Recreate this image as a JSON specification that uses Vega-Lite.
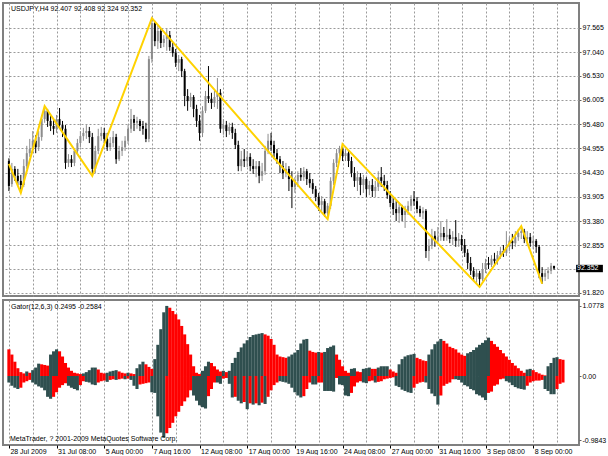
{
"$schema":"https://vega.github.io/schema/vega-lite/v6.json",
"padding":{"left":2,"top":2,"right":0,"bottom":0},
"background":"#ffffff",
"spacing":2,
"config":{"view":{"stroke":"#808080","strokeWidth":2},
"axis":{"labelFont":"Liberation Sans","labelFontSize":7,"labelColor":"#000000","tickColor":"#606060","gridColor":"#9a9a9a","gridDash":[2,2],"gridWidth":1,"domain":false,"labelOverlap":false}},
"datasets":{
"candles":[
{"i":0,"o":94.68,"h":94.74,"l":94.03,"c":94.14},{"i":1,"o":94.18,"h":94.64,"l":94.12,"c":94.51},{"i":2,"o":94.51,"h":94.57,"l":94.25,"c":94.36},{"i":3,"o":94.36,"h":94.51,"l":94.16,"c":94.25},{"i":4,"o":94.25,"h":94.38,"l":93.99,"c":94.16},{"i":5,"o":94.16,"h":94.72,"l":94.12,"c":94.57},{"i":6,"o":94.57,"h":95.01,"l":94.51,"c":94.85},{"i":7,"o":94.85,"h":95.16,"l":94.77,"c":94.94},{"i":8,"o":94.94,"h":95.33,"l":94.85,"c":95.12},{"i":9,"o":95.12,"h":95.24,"l":94.85,"c":94.98},
{"i":10,"o":94.98,"h":95.33,"l":94.90,"c":95.20},{"i":11,"o":95.20,"h":95.68,"l":95.12,"c":95.59},{"i":12,"o":95.59,"h":95.87,"l":95.51,"c":95.77},{"i":13,"o":95.77,"h":95.81,"l":95.42,"c":95.55},{"i":14,"o":95.55,"h":95.68,"l":95.33,"c":95.44},{"i":15,"o":95.44,"h":95.59,"l":95.25,"c":95.38},{"i":16,"o":95.38,"h":95.68,"l":95.29,"c":95.59},{"i":17,"o":95.59,"h":95.83,"l":95.38,"c":95.46},{"i":18,"o":95.46,"h":95.55,"l":95.20,"c":95.38},{"i":19,"o":95.38,"h":95.46,"l":94.51,"c":94.64},
{"i":20,"o":94.64,"h":94.83,"l":94.55,"c":94.72},{"i":21,"o":94.72,"h":94.81,"l":94.55,"c":94.64},{"i":22,"o":94.64,"h":94.94,"l":94.57,"c":94.90},{"i":23,"o":94.90,"h":95.16,"l":94.83,"c":95.07},{"i":24,"o":95.07,"h":95.33,"l":94.98,"c":95.22},{"i":25,"o":95.22,"h":95.40,"l":95.12,"c":95.29},{"i":26,"o":95.29,"h":95.46,"l":95.16,"c":95.33},{"i":27,"o":95.33,"h":95.42,"l":95.07,"c":95.20},{"i":28,"o":95.20,"h":95.29,"l":94.36,"c":94.51},{"i":29,"o":94.51,"h":95.01,"l":94.42,"c":94.90},
{"i":30,"o":94.90,"h":95.38,"l":94.83,"c":95.22},{"i":31,"o":95.22,"h":95.42,"l":95.12,"c":95.29},{"i":32,"o":95.29,"h":95.40,"l":95.07,"c":95.16},{"i":33,"o":95.16,"h":95.29,"l":94.90,"c":94.98},{"i":34,"o":94.98,"h":95.20,"l":94.90,"c":95.07},{"i":35,"o":95.07,"h":95.33,"l":94.98,"c":95.20},{"i":36,"o":95.20,"h":95.27,"l":94.62,"c":94.72},{"i":37,"o":94.72,"h":95.01,"l":94.68,"c":94.90},{"i":38,"o":94.90,"h":95.12,"l":94.79,"c":94.98},{"i":39,"o":94.98,"h":95.22,"l":94.90,"c":95.12},
{"i":40,"o":95.12,"h":95.46,"l":95.05,"c":95.38},{"i":41,"o":95.38,"h":95.81,"l":95.29,"c":95.59},{"i":42,"o":95.59,"h":95.68,"l":95.33,"c":95.51},{"i":43,"o":95.51,"h":95.64,"l":95.38,"c":95.55},{"i":44,"o":95.55,"h":95.59,"l":95.33,"c":95.44},{"i":45,"o":95.44,"h":95.55,"l":95.25,"c":95.38},{"i":46,"o":95.38,"h":95.51,"l":95.09,"c":95.16},{"i":47,"o":95.16,"h":96.96,"l":95.09,"c":96.89},{"i":48,"o":96.89,"h":97.78,"l":96.81,"c":97.67},{"i":49,"o":97.67,"h":97.72,"l":97.17,"c":97.28},
{"i":50,"o":97.28,"h":97.63,"l":97.11,"c":97.50},{"i":51,"o":97.50,"h":97.54,"l":97.13,"c":97.24},{"i":52,"o":97.24,"h":97.41,"l":97.15,"c":97.33},{"i":53,"o":97.33,"h":97.54,"l":97.07,"c":97.41},{"i":54,"o":97.41,"h":97.50,"l":97.07,"c":97.15},{"i":55,"o":97.15,"h":97.24,"l":96.94,"c":97.02},{"i":56,"o":97.02,"h":97.11,"l":96.72,"c":96.81},{"i":57,"o":96.81,"h":96.98,"l":96.63,"c":96.89},{"i":58,"o":96.89,"h":96.94,"l":96.50,"c":96.63},{"i":59,"o":96.63,"h":96.68,"l":95.87,"c":96.09},
{"i":60,"o":96.09,"h":96.24,"l":95.77,"c":95.98},{"i":61,"o":95.98,"h":96.16,"l":95.85,"c":96.07},{"i":62,"o":96.07,"h":96.11,"l":95.63,"c":95.81},{"i":63,"o":95.81,"h":95.90,"l":95.42,"c":95.55},{"i":64,"o":95.55,"h":95.68,"l":95.12,"c":95.29},{"i":65,"o":95.29,"h":95.87,"l":95.20,"c":95.77},{"i":66,"o":95.77,"h":96.20,"l":95.72,"c":96.09},{"i":67,"o":96.09,"h":96.74,"l":95.94,"c":96.03},{"i":68,"o":96.03,"h":96.16,"l":95.81,"c":95.94},{"i":69,"o":95.94,"h":96.20,"l":95.85,"c":96.07},
{"i":70,"o":96.07,"h":96.48,"l":95.81,"c":96.16},{"i":71,"o":96.16,"h":96.24,"l":95.29,"c":95.38},{"i":72,"o":95.38,"h":95.59,"l":95.25,"c":95.46},{"i":73,"o":95.46,"h":95.55,"l":95.20,"c":95.33},{"i":74,"o":95.33,"h":95.51,"l":95.25,"c":95.42},{"i":75,"o":95.42,"h":95.51,"l":95.16,"c":95.29},{"i":76,"o":95.29,"h":95.38,"l":94.94,"c":95.03},{"i":77,"o":95.03,"h":95.12,"l":94.46,"c":94.57},{"i":78,"o":94.57,"h":94.90,"l":94.46,"c":94.72},{"i":79,"o":94.72,"h":94.94,"l":94.55,"c":94.68},
{"i":80,"o":94.68,"h":94.90,"l":94.55,"c":94.77},{"i":81,"o":94.77,"h":94.85,"l":94.46,"c":94.57},{"i":82,"o":94.57,"h":94.72,"l":94.40,"c":94.51},{"i":83,"o":94.51,"h":94.68,"l":94.33,"c":94.57},{"i":84,"o":94.57,"h":94.68,"l":94.20,"c":94.36},{"i":85,"o":94.36,"h":94.64,"l":94.25,"c":94.46},{"i":86,"o":94.46,"h":95.01,"l":94.38,"c":94.90},{"i":87,"o":94.90,"h":95.27,"l":94.83,"c":95.12},{"i":88,"o":95.12,"h":95.29,"l":94.90,"c":95.03},{"i":89,"o":95.03,"h":95.12,"l":94.72,"c":94.85},
{"i":90,"o":94.85,"h":94.94,"l":94.62,"c":94.72},{"i":91,"o":94.72,"h":94.79,"l":94.42,"c":94.57},{"i":92,"o":94.57,"h":94.68,"l":94.29,"c":94.42},{"i":93,"o":94.42,"h":94.64,"l":94.33,"c":94.51},{"i":94,"o":94.51,"h":94.57,"l":94.03,"c":94.29},{"i":95,"o":94.29,"h":94.46,"l":93.66,"c":94.12},{"i":96,"o":94.12,"h":94.33,"l":93.99,"c":94.25},{"i":97,"o":94.25,"h":94.46,"l":94.12,"c":94.38},{"i":98,"o":94.38,"h":94.53,"l":94.25,"c":94.33},{"i":99,"o":94.33,"h":94.55,"l":94.25,"c":94.46},
{"i":100,"o":94.46,"h":94.51,"l":94.16,"c":94.29},{"i":101,"o":94.29,"h":94.42,"l":94.10,"c":94.20},{"i":102,"o":94.20,"h":94.29,"l":93.97,"c":94.07},{"i":103,"o":94.07,"h":94.14,"l":93.81,"c":93.90},{"i":104,"o":93.90,"h":93.99,"l":93.60,"c":93.73},{"i":105,"o":93.73,"h":93.92,"l":93.60,"c":93.81},{"i":106,"o":93.81,"h":93.86,"l":93.47,"c":93.55},{"i":107,"o":93.55,"h":93.77,"l":93.42,"c":93.71},{"i":108,"o":93.71,"h":94.33,"l":93.64,"c":94.25},{"i":109,"o":94.25,"h":94.72,"l":94.16,"c":94.64},
{"i":110,"o":94.64,"h":94.94,"l":94.55,"c":94.85},{"i":111,"o":94.85,"h":95.01,"l":94.72,"c":94.94},{"i":112,"o":94.94,"h":95.05,"l":94.68,"c":94.79},{"i":113,"o":94.79,"h":94.94,"l":94.68,"c":94.85},{"i":114,"o":94.85,"h":94.90,"l":94.55,"c":94.68},{"i":115,"o":94.68,"h":94.77,"l":94.33,"c":94.42},{"i":116,"o":94.42,"h":94.55,"l":94.12,"c":94.25},{"i":117,"o":94.25,"h":94.46,"l":94.03,"c":94.33},{"i":118,"o":94.33,"h":94.42,"l":93.94,"c":94.16},{"i":119,"o":94.16,"h":94.38,"l":93.99,"c":94.29},
{"i":120,"o":94.29,"h":94.33,"l":93.90,"c":94.07},{"i":121,"o":94.07,"h":94.25,"l":93.94,"c":94.16},{"i":122,"o":94.16,"h":94.29,"l":93.90,"c":94.03},{"i":123,"o":94.03,"h":94.25,"l":93.90,"c":94.12},{"i":124,"o":94.12,"h":94.46,"l":94.03,"c":94.33},{"i":125,"o":94.33,"h":94.55,"l":94.12,"c":94.25},{"i":126,"o":94.25,"h":94.38,"l":94.03,"c":94.16},{"i":127,"o":94.16,"h":94.25,"l":93.86,"c":93.94},{"i":128,"o":93.94,"h":94.03,"l":93.68,"c":93.77},{"i":129,"o":93.77,"h":93.90,"l":93.51,"c":93.64},
{"i":130,"o":93.64,"h":93.81,"l":93.38,"c":93.55},{"i":131,"o":93.55,"h":93.75,"l":93.34,"c":93.68},{"i":132,"o":93.68,"h":93.73,"l":93.38,"c":93.51},{"i":133,"o":93.51,"h":93.71,"l":93.23,"c":93.60},{"i":134,"o":93.60,"h":93.81,"l":93.51,"c":93.71},{"i":135,"o":93.71,"h":93.94,"l":93.60,"c":93.86},{"i":136,"o":93.86,"h":94.03,"l":93.71,"c":93.81},{"i":137,"o":93.81,"h":93.90,"l":93.55,"c":93.64},{"i":138,"o":93.64,"h":93.71,"l":93.47,"c":93.55},{"i":139,"o":93.55,"h":93.68,"l":93.42,"c":93.60},
{"i":140,"o":93.60,"h":93.64,"l":92.58,"c":92.73},{"i":141,"o":92.73,"h":92.99,"l":92.51,"c":92.84},{"i":142,"o":92.84,"h":93.21,"l":92.77,"c":93.06},{"i":143,"o":93.06,"h":93.16,"l":92.82,"c":92.95},{"i":144,"o":92.95,"h":93.25,"l":92.88,"c":93.03},{"i":145,"o":93.03,"h":93.38,"l":92.95,"c":93.12},{"i":146,"o":93.12,"h":93.25,"l":92.95,"c":93.03},{"i":147,"o":93.03,"h":93.42,"l":92.95,"c":93.08},{"i":148,"o":93.08,"h":93.21,"l":92.90,"c":92.99},{"i":149,"o":92.99,"h":93.16,"l":92.86,"c":93.03},
{"i":150,"o":93.03,"h":93.40,"l":92.82,"c":92.95},{"i":151,"o":92.95,"h":93.12,"l":92.82,"c":92.99},{"i":152,"o":92.99,"h":93.08,"l":92.73,"c":92.86},{"i":153,"o":92.86,"h":92.99,"l":92.60,"c":92.69},{"i":154,"o":92.69,"h":92.77,"l":92.34,"c":92.47},{"i":155,"o":92.47,"h":92.60,"l":92.21,"c":92.30},{"i":156,"o":92.30,"h":92.38,"l":92.08,"c":92.17},{"i":157,"o":92.17,"h":92.34,"l":92.04,"c":92.25},{"i":158,"o":92.25,"h":92.30,"l":91.95,"c":92.12},{"i":159,"o":92.12,"h":92.47,"l":92.08,"c":92.34},
{"i":160,"o":92.34,"h":92.56,"l":92.25,"c":92.47},{"i":161,"o":92.47,"h":92.60,"l":92.34,"c":92.43},{"i":162,"o":92.43,"h":92.64,"l":92.38,"c":92.56},{"i":163,"o":92.56,"h":92.69,"l":92.43,"c":92.51},{"i":164,"o":92.51,"h":92.73,"l":92.43,"c":92.64},{"i":165,"o":92.64,"h":92.82,"l":92.56,"c":92.73},{"i":166,"o":92.73,"h":92.86,"l":92.60,"c":92.69},{"i":167,"o":92.69,"h":93.16,"l":92.62,"c":92.82},{"i":168,"o":92.82,"h":93.03,"l":92.73,"c":92.95},{"i":169,"o":92.95,"h":93.10,"l":92.77,"c":92.90},
{"i":170,"o":92.90,"h":93.16,"l":92.82,"c":93.03},{"i":171,"o":93.03,"h":93.21,"l":92.95,"c":93.12},{"i":172,"o":93.12,"h":93.27,"l":92.99,"c":93.16},{"i":173,"o":93.16,"h":93.21,"l":92.90,"c":92.99},{"i":174,"o":92.99,"h":93.16,"l":92.86,"c":93.03},{"i":175,"o":93.03,"h":93.12,"l":92.82,"c":92.90},{"i":176,"o":92.90,"h":93.06,"l":92.77,"c":92.95},{"i":177,"o":92.95,"h":92.99,"l":92.69,"c":92.82},{"i":178,"o":92.82,"h":92.86,"l":92.14,"c":92.25},{"i":179,"o":92.25,"h":92.38,"l":92.02,"c":92.17},
{"i":180,"o":92.17,"h":92.34,"l":92.08,"c":92.25},{"i":181,"o":92.25,"h":92.38,"l":92.12,"c":92.30},{"i":182,"o":92.30,"h":92.47,"l":92.23,"c":92.41},{"i":183,"o":92.407,"h":92.408,"l":92.324,"c":92.352}
],
"zz":[{"i":0,"p":94.62},{"i":4,"p":93.99},{"i":12,"p":95.87},{"i":28,"p":94.36},{"i":48,"p":97.78},{"i":107,"p":93.42},{"i":112,"p":95.05},{"i":158,"p":91.95},{"i":172,"p":93.27},{"i":179,"p":92.02}],
"gator":[
{"i":0,"u":0.41,"uc":"r","d":-0.10,"dc":"g"},{"i":1,"u":0.33,"uc":"r","d":-0.15,"dc":"g"},{"i":2,"u":0.22,"uc":"r","d":-0.18,"dc":"g"},{"i":3,"u":0.12,"uc":"r","d":-0.20,"dc":"g"},{"i":4,"u":0.06,"uc":"r","d":-0.18,"dc":"r"},{"i":5,"u":0.04,"uc":"r","d":-0.10,"dc":"r"},{"i":6,"u":0.07,"uc":"g","d":-0.08,"dc":"r"},{"i":7,"u":0.05,"uc":"r","d":-0.06,"dc":"r"},{"i":8,"u":0.09,"uc":"g","d":-0.10,"dc":"g"},{"i":9,"u":0.13,"uc":"g","d":-0.13,"dc":"g"},
{"i":10,"u":0.19,"uc":"g","d":-0.16,"dc":"g"},{"i":11,"u":0.18,"uc":"r","d":-0.18,"dc":"g"},{"i":12,"u":0.17,"uc":"r","d":-0.22,"dc":"g"},{"i":13,"u":0.16,"uc":"r","d":-0.32,"dc":"g"},{"i":14,"u":0.33,"uc":"g","d":-0.35,"dc":"g"},{"i":15,"u":0.38,"uc":"g","d":-0.32,"dc":"r"},{"i":16,"u":0.41,"uc":"g","d":-0.25,"dc":"r"},{"i":17,"u":0.38,"uc":"r","d":-0.18,"dc":"r"},{"i":18,"u":0.30,"uc":"r","d":-0.14,"dc":"r"},{"i":19,"u":0.20,"uc":"r","d":-0.11,"dc":"r"},
{"i":20,"u":0.13,"uc":"r","d":-0.15,"dc":"g"},{"i":21,"u":0.08,"uc":"r","d":-0.18,"dc":"g"},{"i":22,"u":0.05,"uc":"r","d":-0.20,"dc":"g"},{"i":23,"u":0.04,"uc":"r","d":-0.22,"dc":"g"},{"i":24,"u":0.03,"uc":"r","d":-0.14,"dc":"r"},{"i":25,"u":0.04,"uc":"g","d":-0.08,"dc":"r"},{"i":26,"u":0.06,"uc":"g","d":-0.09,"dc":"g"},{"i":27,"u":0.09,"uc":"g","d":-0.10,"dc":"g"},{"i":28,"u":0.13,"uc":"g","d":-0.13,"dc":"g"},{"i":29,"u":0.13,"uc":"g","d":-0.14,"dc":"g"},
{"i":30,"u":0.10,"uc":"r","d":-0.10,"dc":"r"},{"i":31,"u":0.05,"uc":"r","d":-0.08,"dc":"r"},{"i":32,"u":0.04,"uc":"r","d":-0.07,"dc":"r"},{"i":33,"u":0.05,"uc":"g","d":-0.09,"dc":"g"},{"i":34,"u":0.07,"uc":"g","d":-0.06,"dc":"r"},{"i":35,"u":0.08,"uc":"g","d":-0.05,"dc":"r"},{"i":36,"u":0.09,"uc":"g","d":-0.06,"dc":"g"},{"i":37,"u":0.07,"uc":"r","d":-0.05,"dc":"r"},{"i":38,"u":0.05,"uc":"r","d":-0.04,"dc":"r"},{"i":39,"u":0.04,"uc":"r","d":-0.05,"dc":"g"},
{"i":40,"u":0.05,"uc":"g","d":-0.04,"dc":"r"},{"i":41,"u":0.04,"uc":"r","d":-0.06,"dc":"g"},{"i":42,"u":0.03,"uc":"r","d":-0.15,"dc":"g"},{"i":43,"u":0.12,"uc":"g","d":-0.20,"dc":"g"},{"i":44,"u":0.18,"uc":"g","d":-0.13,"dc":"r"},{"i":45,"u":0.22,"uc":"g","d":-0.12,"dc":"r"},{"i":46,"u":0.18,"uc":"r","d":-0.11,"dc":"r"},{"i":47,"u":0.14,"uc":"r","d":-0.10,"dc":"r"},{"i":48,"u":0.11,"uc":"r","d":-0.25,"dc":"g"},{"i":49,"u":0.26,"uc":"g","d":-0.26,"dc":"g"},
{"i":50,"u":0.48,"uc":"g","d":-0.62,"dc":"g"},{"i":51,"u":0.72,"uc":"g","d":-0.87,"dc":"g"},{"i":52,"u":0.98,"uc":"g","d":-0.95,"dc":"g"},{"i":53,"u":1.078,"uc":"g","d":-0.88,"dc":"r"},{"i":54,"u":1.05,"uc":"r","d":-0.80,"dc":"r"},{"i":55,"u":1.00,"uc":"r","d":-0.72,"dc":"r"},{"i":56,"u":0.95,"uc":"r","d":-0.62,"dc":"r"},{"i":57,"u":0.87,"uc":"r","d":-0.55,"dc":"r"},{"i":58,"u":0.77,"uc":"r","d":-0.46,"dc":"r"},{"i":59,"u":0.64,"uc":"r","d":-0.39,"dc":"r"},
{"i":60,"u":0.49,"uc":"r","d":-0.33,"dc":"r"},{"i":61,"u":0.33,"uc":"r","d":-0.22,"dc":"r"},{"i":62,"u":0.15,"uc":"r","d":-0.30,"dc":"g"},{"i":63,"u":0.05,"uc":"r","d":-0.38,"dc":"g"},{"i":64,"u":0.03,"uc":"r","d":-0.45,"dc":"g"},{"i":65,"u":0.08,"uc":"g","d":-0.48,"dc":"g"},{"i":66,"u":0.15,"uc":"g","d":-0.50,"dc":"g"},{"i":67,"u":0.22,"uc":"g","d":-0.31,"dc":"r"},{"i":68,"u":0.20,"uc":"r","d":-0.20,"dc":"r"},{"i":69,"u":0.15,"uc":"r","d":-0.10,"dc":"r"},
{"i":70,"u":0.10,"uc":"r","d":-0.10,"dc":"g"},{"i":71,"u":0.07,"uc":"r","d":-0.12,"dc":"g"},{"i":72,"u":0.08,"uc":"g","d":-0.04,"dc":"r"},{"i":73,"u":0.06,"uc":"r","d":-0.03,"dc":"r"},{"i":74,"u":0.08,"uc":"g","d":-0.12,"dc":"g"},{"i":75,"u":0.20,"uc":"g","d":-0.33,"dc":"g"},{"i":76,"u":0.28,"uc":"g","d":-0.32,"dc":"r"},{"i":77,"u":0.37,"uc":"g","d":-0.38,"dc":"g"},{"i":78,"u":0.44,"uc":"g","d":-0.42,"dc":"g"},{"i":79,"u":0.50,"uc":"g","d":-0.40,"dc":"r"},
{"i":80,"u":0.55,"uc":"g","d":-0.51,"dc":"g"},{"i":81,"u":0.60,"uc":"g","d":-0.42,"dc":"r"},{"i":82,"u":0.63,"uc":"g","d":-0.44,"dc":"g"},{"i":83,"u":0.64,"uc":"g","d":-0.42,"dc":"r"},{"i":84,"u":0.65,"uc":"g","d":-0.45,"dc":"g"},{"i":85,"u":0.66,"uc":"g","d":-0.41,"dc":"r"},{"i":86,"u":0.64,"uc":"r","d":-0.43,"dc":"g"},{"i":87,"u":0.62,"uc":"r","d":-0.32,"dc":"r"},{"i":88,"u":0.57,"uc":"r","d":-0.22,"dc":"r"},{"i":89,"u":0.48,"uc":"r","d":-0.14,"dc":"r"},
{"i":90,"u":0.33,"uc":"r","d":-0.10,"dc":"r"},{"i":91,"u":0.30,"uc":"r","d":-0.08,"dc":"g"},{"i":92,"u":0.29,"uc":"r","d":-0.09,"dc":"g"},{"i":93,"u":0.28,"uc":"r","d":-0.10,"dc":"g"},{"i":94,"u":0.30,"uc":"g","d":-0.12,"dc":"g"},{"i":95,"u":0.33,"uc":"g","d":-0.18,"dc":"g"},{"i":96,"u":0.36,"uc":"g","d":-0.25,"dc":"g"},{"i":97,"u":0.40,"uc":"g","d":-0.30,"dc":"g"},{"i":98,"u":0.50,"uc":"g","d":-0.33,"dc":"g"},{"i":99,"u":0.56,"uc":"g","d":-0.31,"dc":"r"},
{"i":100,"u":0.57,"uc":"g","d":-0.20,"dc":"r"},{"i":101,"u":0.39,"uc":"r","d":-0.10,"dc":"r"},{"i":102,"u":0.37,"uc":"r","d":-0.13,"dc":"g"},{"i":103,"u":0.36,"uc":"r","d":-0.13,"dc":"g"},{"i":104,"u":0.37,"uc":"g","d":-0.10,"dc":"r"},{"i":105,"u":0.36,"uc":"r","d":-0.10,"dc":"r"},{"i":106,"u":0.37,"uc":"g","d":-0.23,"dc":"g"},{"i":107,"u":0.43,"uc":"g","d":-0.23,"dc":"g"},{"i":108,"u":0.45,"uc":"g","d":-0.23,"dc":"g"},{"i":109,"u":0.47,"uc":"g","d":-0.24,"dc":"g"},
{"i":110,"u":0.33,"uc":"r","d":-0.03,"dc":"r"},{"i":111,"u":0.25,"uc":"r","d":-0.13,"dc":"g"},{"i":112,"u":0.15,"uc":"r","d":-0.14,"dc":"g"},{"i":113,"u":0.08,"uc":"r","d":-0.30,"dc":"g"},{"i":114,"u":0.05,"uc":"r","d":-0.31,"dc":"g"},{"i":115,"u":0.11,"uc":"g","d":-0.26,"dc":"r"},{"i":116,"u":0.12,"uc":"g","d":-0.16,"dc":"r"},{"i":117,"u":0.07,"uc":"r","d":-0.10,"dc":"r"},{"i":118,"u":0.06,"uc":"r","d":-0.08,"dc":"r"},{"i":119,"u":0.11,"uc":"g","d":-0.10,"dc":"g"},
{"i":120,"u":0.12,"uc":"g","d":-0.11,"dc":"g"},{"i":121,"u":0.13,"uc":"g","d":-0.08,"dc":"r"},{"i":122,"u":0.11,"uc":"r","d":-0.07,"dc":"r"},{"i":123,"u":0.11,"uc":"r","d":-0.10,"dc":"g"},{"i":124,"u":0.13,"uc":"g","d":-0.09,"dc":"r"},{"i":125,"u":0.15,"uc":"g","d":-0.08,"dc":"r"},{"i":126,"u":0.15,"uc":"g","d":-0.05,"dc":"r"},{"i":127,"u":0.15,"uc":"g","d":-0.04,"dc":"r"},{"i":128,"u":0.10,"uc":"r","d":-0.03,"dc":"r"},{"i":129,"u":0.07,"uc":"r","d":-0.02,"dc":"r"},
{"i":130,"u":0.05,"uc":"r","d":-0.15,"dc":"g"},{"i":131,"u":0.18,"uc":"g","d":-0.17,"dc":"g"},{"i":132,"u":0.26,"uc":"g","d":-0.21,"dc":"g"},{"i":133,"u":0.30,"uc":"g","d":-0.23,"dc":"g"},{"i":134,"u":0.32,"uc":"g","d":-0.25,"dc":"g"},{"i":135,"u":0.33,"uc":"g","d":-0.26,"dc":"g"},{"i":136,"u":0.34,"uc":"g","d":-0.18,"dc":"r"},{"i":137,"u":0.28,"uc":"r","d":-0.12,"dc":"r"},{"i":138,"u":0.26,"uc":"r","d":-0.10,"dc":"r"},{"i":139,"u":0.24,"uc":"r","d":-0.09,"dc":"r"},
{"i":140,"u":0.23,"uc":"r","d":-0.10,"dc":"g"},{"i":141,"u":0.33,"uc":"g","d":-0.20,"dc":"g"},{"i":142,"u":0.41,"uc":"g","d":-0.27,"dc":"g"},{"i":143,"u":0.49,"uc":"g","d":-0.31,"dc":"g"},{"i":144,"u":0.53,"uc":"g","d":-0.44,"dc":"g"},{"i":145,"u":0.57,"uc":"g","d":-0.30,"dc":"r"},{"i":146,"u":0.54,"uc":"r","d":-0.15,"dc":"r"},{"i":147,"u":0.50,"uc":"r","d":-0.12,"dc":"r"},{"i":148,"u":0.45,"uc":"r","d":-0.10,"dc":"r"},{"i":149,"u":0.43,"uc":"r","d":-0.05,"dc":"r"},
{"i":150,"u":0.41,"uc":"r","d":-0.05,"dc":"g"},{"i":151,"u":0.36,"uc":"r","d":-0.06,"dc":"g"},{"i":152,"u":0.33,"uc":"r","d":-0.10,"dc":"g"},{"i":153,"u":0.31,"uc":"r","d":-0.14,"dc":"g"},{"i":154,"u":0.35,"uc":"g","d":-0.16,"dc":"g"},{"i":155,"u":0.37,"uc":"g","d":-0.20,"dc":"g"},{"i":156,"u":0.40,"uc":"g","d":-0.22,"dc":"g"},{"i":157,"u":0.44,"uc":"g","d":-0.28,"dc":"g"},{"i":158,"u":0.48,"uc":"g","d":-0.30,"dc":"g"},{"i":159,"u":0.51,"uc":"g","d":-0.33,"dc":"g"},
{"i":160,"u":0.55,"uc":"g","d":-0.37,"dc":"g"},{"i":161,"u":0.59,"uc":"g","d":-0.26,"dc":"r"},{"i":162,"u":0.54,"uc":"r","d":-0.24,"dc":"r"},{"i":163,"u":0.49,"uc":"r","d":-0.15,"dc":"r"},{"i":164,"u":0.45,"uc":"r","d":-0.13,"dc":"r"},{"i":165,"u":0.40,"uc":"r","d":-0.05,"dc":"r"},{"i":166,"u":0.35,"uc":"r","d":-0.04,"dc":"r"},{"i":167,"u":0.30,"uc":"r","d":-0.08,"dc":"g"},{"i":168,"u":0.25,"uc":"r","d":-0.10,"dc":"g"},{"i":169,"u":0.20,"uc":"r","d":-0.14,"dc":"g"},
{"i":170,"u":0.16,"uc":"r","d":-0.17,"dc":"g"},{"i":171,"u":0.12,"uc":"r","d":-0.19,"dc":"g"},{"i":172,"u":0.08,"uc":"r","d":-0.20,"dc":"g"},{"i":173,"u":0.05,"uc":"r","d":-0.21,"dc":"g"},{"i":174,"u":0.10,"uc":"g","d":-0.15,"dc":"r"},{"i":175,"u":0.11,"uc":"g","d":-0.10,"dc":"r"},{"i":176,"u":0.09,"uc":"r","d":-0.08,"dc":"r"},{"i":177,"u":0.06,"uc":"r","d":-0.07,"dc":"r"},{"i":178,"u":0.04,"uc":"r","d":-0.07,"dc":"r"},{"i":179,"u":0.02,"uc":"r","d":-0.06,"dc":"r"},
{"i":180,"u":0.01,"uc":"r","d":-0.20,"dc":"g"},{"i":181,"u":0.15,"uc":"g","d":-0.23,"dc":"g"},{"i":182,"u":0.20,"uc":"g","d":-0.28,"dc":"g"},{"i":183,"u":0.28,"uc":"g","d":-0.28,"dc":"g"},{"i":184,"u":0.29,"uc":"g","d":-0.20,"dc":"r"},{"i":185,"u":0.26,"uc":"r","d":-0.12,"dc":"r"},{"i":186,"u":0.25,"uc":"r","d":-0.10,"dc":"r"}
]},
"vconcat":[
{"width":576,"height":293,
"layer":[
{"data":{"name":"candles"},"mark":{"type":"rule","strokeWidth":1},
"encoding":{
"x":{"field":"i","type":"quantitative","title":null,"scale":{"domain":[-0.3,189.7],"nice":false,"zero":false},
"axis":{"values":[0,8,16,24,32,40,48,56,64,72,80,88,96,104,112,120,128,136,144,152,160,168,176,184],"tickCount":40,"labels":false,"ticks":false,"grid":true,"title":null,"orient":"bottom"}},
"y":{"field":"l","type":"quantitative","title":null,"scale":{"domain":[91.754,98.107],"nice":false,"zero":false},
"axis":{"orient":"right","values":[97.565,97.04,96.53,96.005,95.48,94.955,94.43,93.905,93.38,92.855,92.33,91.82],"tickCount":30,"labelExpr":"datum.value === 92.33 ? '' : format(datum.value, '.3f')","grid":true,"tickSize":2,"labelPadding":1,"title":null,"labelOverlap":false}},
"y2":{"field":"h"},
"color":{"condition":{"test":"datum.c >= datum.o","value":"#8c8c8c"},"value":"#000000"}}},
{"data":{"name":"candles"},"mark":{"type":"bar","width":2},
"encoding":{"x":{"field":"i","type":"quantitative","title":null},"y":{"field":"o","type":"quantitative","title":null},"y2":{"field":"c"},
"color":{"condition":{"test":"datum.c >= datum.o","value":"#8c8c8c"},"value":"#000000"}}},
{"data":{"name":"zz"},"mark":{"type":"line","color":"#ffd200","strokeWidth":2},
"encoding":{"x":{"field":"i","type":"quantitative","title":null},"y":{"field":"p","type":"quantitative","title":null}}},
{"data":{"values":[{"t":"USDJPY,H4  92.407 92.408 92.324 92.352"}]},"mark":{"type":"text","align":"left","baseline":"top","dx":3,"dy":2,"font":"Liberation Sans","fontSize":7,"color":"#000000"},
"encoding":{"x":{"datum":-0.3,"type":"quantitative","title":null},"y":{"datum":98.107,"type":"quantitative","title":null},"text":{"field":"t"}}},
{"data":{"values":[{"t":"92.352"}]},"mark":{"type":"rect","color":"#000000"},
"encoding":{"x":{"datum":190.4,"type":"quantitative","title":null},"x2":{"datum":199.4},"y":{"datum":92.43,"type":"quantitative","title":null},"y2":{"datum":92.27}}},
{"data":{"values":[{"t":"92.352"}]},"mark":{"type":"text","align":"left","baseline":"middle","dx":1,"font":"Liberation Sans","fontSize":7,"color":"#ffffff"},
"encoding":{"x":{"datum":190.4,"type":"quantitative","title":null},"y":{"datum":92.352,"type":"quantitative","title":null},"text":{"field":"t"}}}
]},
{"width":576,"height":145,
"layer":[
{"data":{"name":"gator"},"mark":{"type":"bar","width":3.1},
"encoding":{
"x":{"field":"i","type":"quantitative","title":null,"scale":{"domain":[-0.3,189.7],"nice":false,"zero":false},
"axis":{"values":[0,8,16,24,32,40,48,56,64,72,80,88,96,104,112,120,128,136,144,152,160,168,176,184],"tickCount":40,"grid":true,"title":null,"orient":"bottom","labelAlign":"left","labelOffset":1,"labelPadding":-1,"labelFlush":false,"labelOverlap":false,"tickSize":3,"tickColor":"#000000",
"tickOpacity":{"condition":{"test":"datum.value % 16 === 0","value":1},"value":0},
"labelExpr":"datum.value % 16 === 0 ? ['28 Jul 2009','31 Jul 08:00','5 Aug 00:00','7 Aug 16:00','12 Aug 08:00','17 Aug 00:00','19 Aug 16:00','24 Aug 08:00','27 Aug 00:00','31 Aug 16:00','3 Sep 08:00','8 Sep 00:00'][datum.value / 16] : ''"}},
"y":{"field":"u","type":"quantitative","title":null,"scale":{"domain":[-1.061,1.169],"nice":false,"zero":false},
"axis":{"orient":"right","values":[1.0778,0,-0.9843],"tickCount":10,"labelExpr":"datum.value > 0.5 ? '1.0778' : (datum.value < -0.5 ? '-0.9843' : '0.00')","grid":false,"tickSize":2,"labelPadding":1,"title":null,"labelOverlap":false}},
"y2":{"datum":0},
"color":{"condition":{"test":"datum.uc === 'g'","value":"#2f4f4f"},"value":"#ff0000"}}},
{"data":{"name":"gator"},"mark":{"type":"bar","width":3.1},
"encoding":{"x":{"field":"i","type":"quantitative","title":null},"y":{"field":"d","type":"quantitative","title":null},"y2":{"datum":0},
"color":{"condition":{"test":"datum.dc === 'g'","value":"#2f4f4f"},"value":"#ff0000"}}},
{"data":{"values":[{"t":"Gator(12,6,3) 0.2495 -0.2584"}]},"mark":{"type":"text","align":"left","baseline":"top","dx":3,"dy":3,"font":"Liberation Sans","fontSize":7,"color":"#000000"},
"encoding":{"x":{"datum":-0.3,"type":"quantitative","title":null},"y":{"datum":1.169,"type":"quantitative","title":null},"text":{"field":"t"}}},
{"data":{"values":[{"t":"MetaTrader, ? 2001-2009 MetaQuotes Software Corp."}]},"mark":{"type":"text","align":"left","baseline":"bottom","dx":2,"dy":-3,"font":"Liberation Sans","fontSize":7,"color":"#000000"},
"encoding":{"x":{"datum":-0.3,"type":"quantitative","title":null},"y":{"datum":-1.061,"type":"quantitative","title":null},"text":{"field":"t"}}}
]}
]
}
